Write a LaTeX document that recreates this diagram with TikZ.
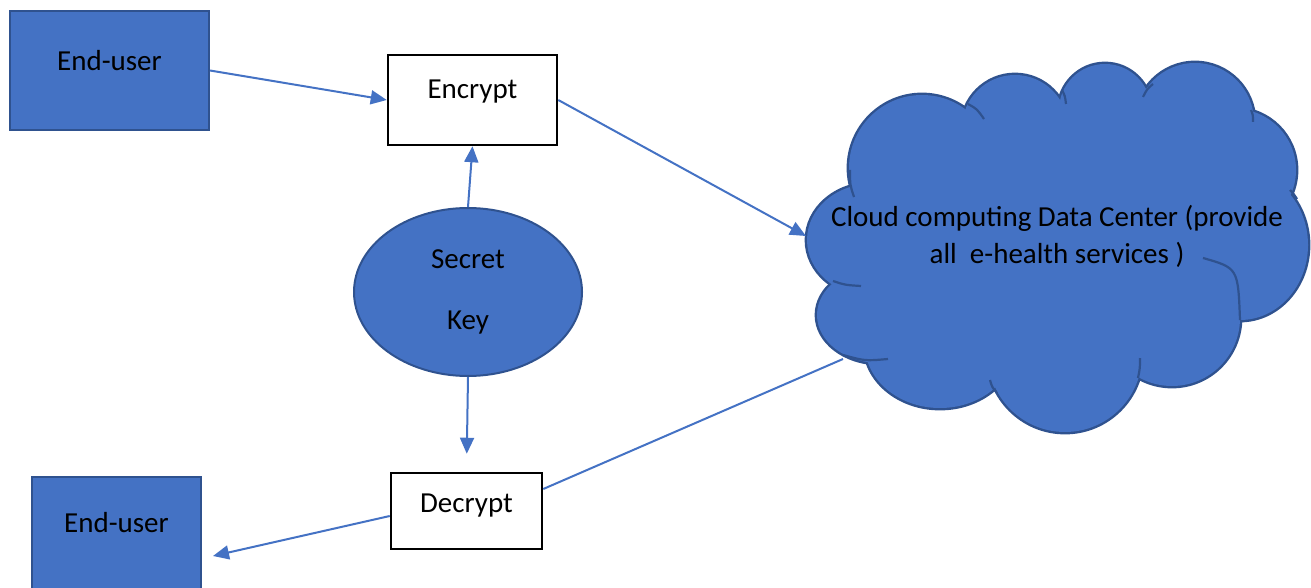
\documentclass[tikz,border=0pt]{standalone}
\usepackage{fontspec}
\setmainfont{Carlito}
\usetikzlibrary{arrows.meta,shapes.geometric}

\definecolor{boxblue}{HTML}{4472C4}
\definecolor{boxline}{HTML}{2F528F}

% puffs of the cloud outline (circles and ellipses), drawn with the given options
\newcommand\cloudpuffs[1]{%
  \path[#1] (922,168) circle[radius=73];
  \path[#1] (1015,128) circle[radius=53];
  \path[#1] (1105,110) circle[radius=46];
  \path[#1] (1195,122) circle[radius=59];
  \path[#1] (1235,170) circle[radius=61];
  \path[#1] (1240,245) ellipse[x radius=68, y radius=75];
  \path[#1] (1172,318) circle[radius=68];
  \path[#1] (1065,355) circle[radius=77];
  \path[#1] (940,345) ellipse[x radius=75, y radius=63];
  \path[#1] (880,315) ellipse[x radius=63, y radius=48];
  \path[#1] (871,240) ellipse[x radius=64, y radius=56];
}

\tikzset{
  txt/.style={font=\fontsize{14.5}{18.5}\selectfont, text=black},
  userbox/.style={rectangle, draw=boxline, fill=boxblue, line width=1pt, inner sep=0pt},
  cryptbox/.style={rectangle, draw=black, fill=white, line width=1.25pt, inner sep=0pt},
  keyshape/.style={ellipse, draw=boxline, fill=boxblue, line width=1pt, inner sep=0pt, txt, align=center},
  link/.style={draw=boxblue, line width=1pt},
  arrowlink/.style={link, -{Triangle[length=8pt,width=7pt]}},
}

\begin{document}
\begin{tikzpicture}[x=0.5pt,y=-0.5pt]
\useasboundingbox (0,0) rectangle (1311,588);

% cloud: outline of the puffs, then the fill over the inner halves of the strokes
\cloudpuffs{draw=boxline, line width=2.4pt}
\cloudpuffs{fill=boxblue}
\fill[boxblue] (1057,247) ellipse[x radius=190, y radius=140];
\begin{scope}[draw=boxline, line width=1.1pt]
  \draw (850,170) .. controls (850,185) .. (854,197);
  \draw (968,104) .. controls (977,109) .. (984,119);
  \draw (1062,90) .. controls (1065,96) .. (1066,104);
  \draw (1153,84) .. controls (1147,89) .. (1143,97);
  \draw (1251,110) .. controls (1253,115) .. (1253,122);
  \draw (1290,190) .. controls (1293,193) .. (1297,199);
  \draw (1203,258) .. controls (1238,268) .. (1240,320);
  \draw (833,281) .. controls (845,285) .. (861,286);
  \draw (843,355) .. controls (865,361) .. (888,359);
  \draw (990,380) .. controls (992,387) .. (997,393);
  \draw (1140,358) .. controls (1140,368) .. (1138,378);
\end{scope}
\node[txt, align=center] (cloud) at (1057,236)
  {Cloud computing Data Center (provide\\all\ \ e-health services )};
\coordinate (cloudin) at (806,236);
\coordinate (cloudout) at (843,359);

% boxes
\node[userbox, minimum width=99.5pt, minimum height=59.5pt,
      label={[txt, yshift=5pt]center:End-user}] (eu1) at (109.5,70.5) {};
\node[cryptbox, minimum width=84.5pt, minimum height=45pt,
      label={[txt, yshift=4pt]center:Encrypt}] (enc) at (472.5,100) {};
\node[keyshape, minimum width=114pt, minimum height=84pt] (key) at (468,292)
  {\rule{0pt}{2pt}Secret\\[12pt]Key};
\node[cryptbox, minimum width=75.5pt, minimum height=38pt,
      label={[txt, yshift=2.5pt]center:Decrypt}] (dec) at (466.5,511) {};
\node[userbox, minimum width=84.5pt, minimum height=56pt,
      label={[txt, yshift=5pt]center:End-user}] (eu2) at (116.5,533) {};
\coordinate (eu2in) at (213,556);

% connectors
\draw[arrowlink] (eu1.east) -- (enc.west);
\draw[arrowlink] (enc.east) -- (cloudin);
\draw[arrowlink] (key.north) -- (enc.south);
\draw[arrowlink, shorten >=9pt] (key.south) -- (dec.north);
\draw[arrowlink] ([yshift=-2.5pt]dec.west) -- (eu2in);
\draw[link] (cloudout) -- ([yshift=11pt]dec.east);
\end{tikzpicture}
\end{document}
